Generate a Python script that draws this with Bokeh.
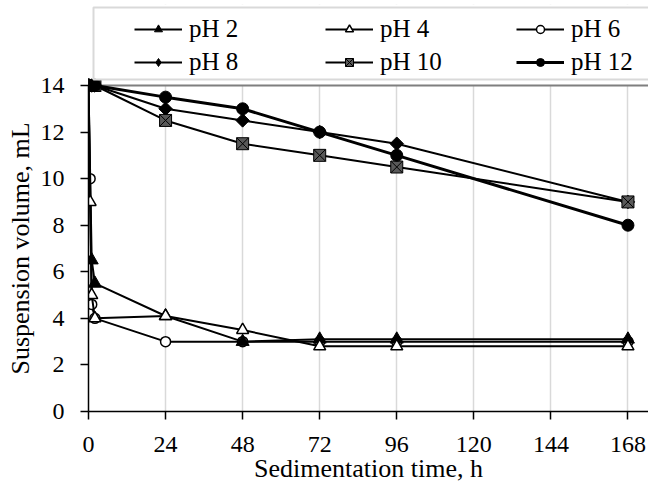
import numpy as np
from bokeh.plotting import figure
from bokeh.models import (Legend, LegendItem, Span, FixedTicker, Range1d,
                          BoxAnnotation, Title)
from bokeh.embed import file_html
from bokeh.resources import INLINE

# ---- data ----
t_ph2 = [0, 1, 2, 24, 48, 72, 96, 168]
v_ph2 = [14, 6.5, 5.5, 4.1, 3.0, 3.1, 3.1, 3.1]

t_ph4 = [0, 0.5, 1, 2, 24, 48, 72, 96, 168]
v_ph4 = [14, 9.0, 5.0, 4.0, 4.1, 3.5, 2.8, 2.8, 2.8]

t_ph6 = [0, 0.5, 1, 2, 24, 48, 72, 96, 168]
v_ph6 = [14, 10.0, 4.6, 4.0, 3.0, 3.0, 3.0, 3.0, 3.0]

t_hi = [0, 1, 2, 24, 48, 72, 96, 168]
v_ph8 = [14, 14, 14, 13.0, 12.5, 12.0, 11.5, 9.0]
v_ph10 = [14, 14, 14, 12.5, 11.5, 11.0, 10.5, 9.0]
v_ph12 = [14, 14, 14, 13.5, 13.0, 12.0, 11.0, 8.0]

labels = ["pH 2", "pH 4", "pH 6", "pH 8", "pH 10", "pH 12"]
x_ticks = [0, 24, 48, 72, 96, 120, 144, 168]
y_ticks = [0, 2, 4, 6, 8, 10, 12, 14]

FONT = "Liberation Serif"

# ---- series styles ----
styles = {
    "pH 2": dict(marker="triangle", size=13, fill_color="black", lw=2),
    "pH 4": dict(marker="triangle", size=12, fill_color="white", lw=2),
    "pH 6": dict(marker="circle", size=10, fill_color="white", lw=2),
    "pH 8": dict(marker="square", size=9.5, fill_color="black", lw=2, angle=np.pi / 4),
    "pH 10": dict(marker="square_x", size=12, fill_color="#595959", lw=2),
    "pH 12": dict(marker="circle", size=12, fill_color="black", lw=3),
}
series = {
    "pH 2": (t_ph2, v_ph2),
    "pH 4": (t_ph4, v_ph4),
    "pH 6": (t_ph6, v_ph6),
    "pH 8": (t_hi, v_ph8),
    "pH 10": (t_hi, v_ph10),
    "pH 12": (t_hi, v_ph12),
}

# frame: canvas y 4..411 ; value 14 sits at canvas y 85
PX_PER_UNIT = 326 / 14.0
Y_TOP = 14 + 81 / PX_PER_UNIT
PX_PER_H = 561 / 174.4

p = figure(width=648, height=487, output_backend="svg", toolbar_location=None,
           x_range=Range1d(0, 174.4), y_range=Range1d(0, Y_TOP),
           min_border_left=87, min_border_right=0, min_border_top=4,
           min_border_bottom=76)
p.outline_line_color = None

for ax in (p.xaxis[0], p.yaxis[0]):
    ax.axis_line_color = "black"
    ax.axis_line_width = 1.5
    ax.major_tick_line_color = "black"
    ax.major_tick_line_width = 1.5
    ax.major_tick_out = 8
    ax.major_tick_in = 0
    ax.minor_tick_line_color = None
    ax.major_label_text_font = FONT
    ax.major_label_text_font_size = "24px"
    ax.major_label_text_color = "black"
    ax.axis_label_text_font = FONT
    ax.axis_label_text_font_style = "normal"
    ax.axis_label_text_color = "black"

p.xaxis[0].ticker = FixedTicker(ticks=x_ticks)
p.yaxis[0].ticker = FixedTicker(ticks=y_ticks)
p.yaxis[0].bounds = (0, 14)
p.xaxis[0].axis_label = "Sedimentation time, h"
p.xaxis[0].axis_label_text_font_size = "26px"
p.xaxis[0].major_label_standoff = 17
p.yaxis[0].major_label_standoff = 16
p.xaxis[0].axis_label_standoff = -1

# y title as a left-side title, centred on the 0..14 part of the axis
ytitle = Title(text="Suspension volume, mL", align="left", offset=37,
               standoff=6, text_font=FONT, text_font_size="26px",
               text_font_style="normal", text_color="black")
p.add_layout(ytitle, "left")

p.xgrid.ticker = FixedTicker(ticks=x_ticks)
p.xgrid.grid_line_color = "#d9d9d9"
p.xgrid.grid_line_width = 1.5
p.ygrid.visible = False

# white area above the plot area (hides grid lines there)
p.add_layout(BoxAnnotation(bottom=14, fill_color="white", fill_alpha=1,
                           line_alpha=0, level="underlay"))
# dark-grey top edge of the plot area
p.add_layout(Span(location=14, dimension="width", line_color="#7f7f7f",
                  line_width=2, level="underlay"))
# legend box (light grey border)
p.add_layout(BoxAnnotation(left=5 / PX_PER_H, bottom=14 + 6 / PX_PER_UNIT,
                           top=14 + 78 / PX_PER_UNIT, right=200,
                           fill_alpha=0, line_color="#d9d9d9", line_width=2,
                           line_alpha=1))

rends = {}
for name in ["pH 6", "pH 2", "pH 4", "pH 8", "pH 10", "pH 12"]:
    xs, ys = series[name]
    st = styles[name]
    ln = p.line(xs, ys, line_color="black", line_width=st["lw"])
    mk = p.scatter(xs, ys, marker=st["marker"], size=st["size"],
                   angle=st.get("angle", 0.0), fill_color=st["fill_color"],
                   line_color="black",
                   line_width=1.5 if st["fill_color"] == "white" else 1)
    rends[name] = [ln, mk]

# legend swatch for the diamond (legend swatches are drawn unrotated)
xs8, ys8 = series["pH 8"]
diamond_swatch = p.scatter(xs8, ys8, marker="diamond", size=15,
                           fill_color="black", line_color="black", visible=False)
rends["pH 8"] = [rends["pH 8"][0], diamond_swatch]

legend = Legend(items=[LegendItem(label=n, renderers=rends[n]) for n in labels],
                location=(46, 335), orientation="horizontal", ncols=3)
legend.label_text_font = FONT
legend.label_text_font_size = "25px"
legend.label_text_color = "black"
legend.border_line_color = None
legend.background_fill_alpha = 0
legend.inactive_fill_alpha = 0
legend.padding = 0
legend.margin = 0
legend.spacing = 4
legend.label_height = 29
legend.glyph_height = 20
legend.glyph_width = 48
legend.label_standoff = 7
legend.label_width = 132
p.add_layout(legend, "center")

open("out.html", "w").write(file_html(p, INLINE))
